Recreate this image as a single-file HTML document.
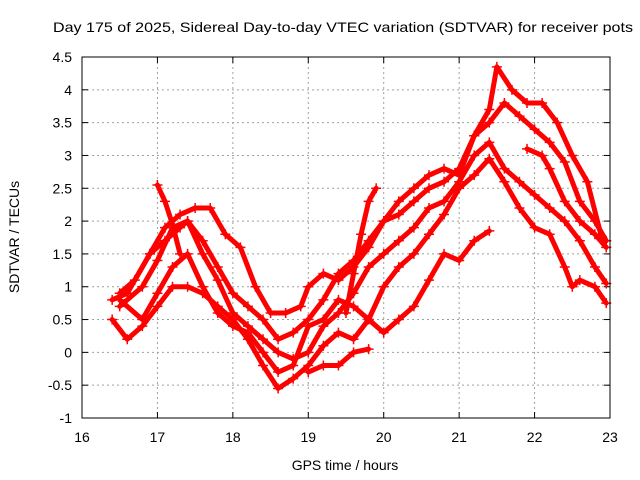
<!DOCTYPE html>
<html><head><meta charset="utf-8"><style>
body{margin:0;background:#fff}
svg{display:block;font-family:"Liberation Sans",sans-serif}
</style></head><body>
<svg id="chart" width="640" height="480">
<text x="343" y="32" font-size="14" text-anchor="middle" textLength="580" lengthAdjust="spacingAndGlyphs">Day 175 of 2025, Sidereal Day-to-day VTEC variation (SDTVAR) for receiver pots</text>
<text x="345" y="470" font-size="14" text-anchor="middle">GPS time / hours</text>
<text transform="translate(19,237) rotate(-90)" font-size="14" text-anchor="middle">SDTVAR / TECUs</text>
<g id="grid"></g><g id="series"></g>
<rect x="82" y="57" width="528" height="361" fill="none" stroke="#000" stroke-width="1"/>
</svg>
<script>
const xTicks=[16,17,18,19,20,21,22,23];
const yTicks=[-1,-0.5,0,0.5,1,1.5,2,2.5,3,3.5,4,4.5];
const yLabels=["-1","-0.5","0","0.5","1","1.5","2","2.5","3","3.5","4","4.5"];
const seriesA=[[16.4,0.8],[16.6,0.9],[16.9,1.5],[17.1,1.9],[17.3,2.1],[17.5,2.2],[17.7,2.2],[17.9,1.8],[18.1,1.6],[18.3,1.0],[18.5,0.6],[18.7,0.6],[18.9,0.7],[19.0,1.0],[19.2,1.2],[19.4,1.1],[19.6,1.3],[19.8,1.6],[20.0,2.0],[20.2,2.1],[20.4,2.3],[20.6,2.5],[20.8,2.6],[21.0,2.8],[21.2,3.3],[21.4,3.7],[21.5,4.35],[21.7,4.0],[21.9,3.8],[22.1,3.8],[22.3,3.5],[22.5,3.0],[22.7,2.6],[22.9,1.7]];
const seriesB=[[16.5,0.7],[16.8,1.0],[17.0,1.4],[17.2,1.9],[17.4,2.0],[17.6,1.7],[17.8,1.3],[18.0,0.9],[18.2,0.7],[18.4,0.5],[18.6,0.2],[18.8,0.3],[19.0,0.5],[19.2,0.8],[19.4,1.2],[19.6,1.4],[19.8,1.7],[20.0,2.0],[20.2,2.3],[20.4,2.5],[20.6,2.7],[20.8,2.8],[21.0,2.7],[21.2,3.3],[21.4,3.5],[21.6,3.8],[21.8,3.6],[22.0,3.4],[22.2,3.2],[22.4,2.9],[22.6,2.3],[22.8,2.0],[22.95,1.7]];
const seriesC=[[16.4,0.5],[16.6,0.2],[16.8,0.4],[17.0,0.7],[17.2,1.0],[17.4,1.0],[17.6,0.9],[17.8,0.7],[18.0,0.5],[18.2,0.2],[18.4,-0.2],[18.6,-0.55],[18.8,-0.4],[19.0,-0.2],[19.2,0.1],[19.4,0.3],[19.6,0.2],[19.8,0.5],[20.0,1.0],[20.2,1.3],[20.4,1.5],[20.6,1.8],[20.8,2.1],[21.0,2.5],[21.2,2.7],[21.4,2.95],[21.6,2.6],[21.8,2.2],[22.0,1.9],[22.2,1.8],[22.4,1.3],[22.5,1.0],[22.6,1.1],[22.8,1.0],[22.95,0.75]];
const seriesD=[[16.5,0.9],[16.7,1.1],[16.9,1.5],[17.1,1.7],[17.3,1.9],[17.4,2.0],[17.6,1.5],[17.8,1.1],[18.0,0.6],[18.2,0.4],[18.4,0.2],[18.6,0.0],[18.8,-0.1],[19.0,0.0],[19.2,0.4],[19.4,0.6],[19.6,0.9],[19.8,1.3],[20.0,1.5],[20.2,1.7],[20.4,1.9],[20.6,2.2],[20.8,2.3],[21.0,2.6],[21.2,3.0],[21.4,3.2],[21.6,2.8],[21.8,2.6],[22.0,2.4],[22.2,2.2],[22.4,2.0],[22.6,1.7],[22.8,1.3],[22.95,1.05]];
const seriesE=[[16.5,0.8],[16.8,0.5],[17.0,0.9],[17.2,1.3],[17.4,1.5],[17.6,1.0],[17.8,0.6],[18.0,0.4],[18.2,0.3],[18.4,0.0],[18.6,-0.3],[18.8,-0.2],[19.0,0.4],[19.2,0.5],[19.4,0.8],[19.6,0.7],[19.8,0.5],[20.0,0.3],[20.2,0.5],[20.4,0.7],[20.6,1.1],[20.8,1.5],[21.0,1.4],[21.2,1.7],[21.4,1.85]];
const seriesF=[[17.0,2.55],[17.1,2.3],[17.2,1.95],[17.3,1.5]];
const seriesG=[[19.0,-0.3],[19.2,-0.2],[19.4,-0.2],[19.6,0.0],[19.8,0.05]];
const seriesH=[[19.5,0.6],[19.6,1.2],[19.7,1.8],[19.8,2.3],[19.9,2.5]];
const seriesI=[[21.9,3.1],[22.1,3.0],[22.2,2.8],[22.4,2.3],[22.6,2.0],[22.8,1.8],[22.95,1.6]];
const allSeries=[seriesA,seriesB,seriesC,seriesD,seriesE,seriesF,seriesG,seriesH,seriesI];
const X=h=>82+(h-16)*528/7, Y=v=>57+(4.5-v)*361/5.5;
const NS="http://www.w3.org/2000/svg";
const grid=document.getElementById('grid'), ser=document.getElementById('series');
function mk(t,a,p){const e=document.createElementNS(NS,t);for(const k in a)e.setAttribute(k,a[k]);p.appendChild(e);return e;}
xTicks.forEach(t=>{const x=X(t);
 if(t>16&&t<23){const l=mk('line',{x1:x,x2:x,y1:57,y2:418,stroke:'#a0a0a0','stroke-dasharray':'2,3'},grid);
 
 }
 mk('line',{x1:x,x2:x,y1:418,y2:412,stroke:'#000'},grid);mk('line',{x1:x,x2:x,y1:57,y2:63,stroke:'#000'},grid);
 const tx=mk('text',{x:x,y:442,'font-size':14,'text-anchor':'middle'},grid);tx.textContent=t;
 
 });
yTicks.forEach((t,i)=>{const y=Y(t);
 if(t>-1&&t<4.5){const l=mk('line',{x1:82,x2:610,y1:y,y2:y,stroke:'#a0a0a0','stroke-dasharray':'2,3'},grid);
 
 }
 mk('line',{x1:82,x2:88,y1:y,y2:y,stroke:'#000'},grid);mk('line',{x1:610,x2:604,y1:y,y2:y,stroke:'#000'},grid);
 const tx=mk('text',{x:72,y:y+5,'font-size':14,'text-anchor':'end'},grid);tx.textContent=yLabels[i];
 
 });
allSeries.forEach((s,si)=>{const g=mk('g',{},ser);
 
 
 mk('polyline',{points:s.map(p=>X(p[0])+','+Y(p[1])).join(' '),fill:'none',stroke:'#f00','stroke-width':5,'stroke-linejoin':'round','stroke-linecap':'round'},g);
 s.forEach(p=>{const x=X(p[0]),y=Y(p[1]);
  const m=mk('path',{d:`M${x-5},${y}H${x+5}M${x},${y-5}V${y+5}`,stroke:'#f00','stroke-width':1.5},g);
  
  });});
</script>
</body></html>
